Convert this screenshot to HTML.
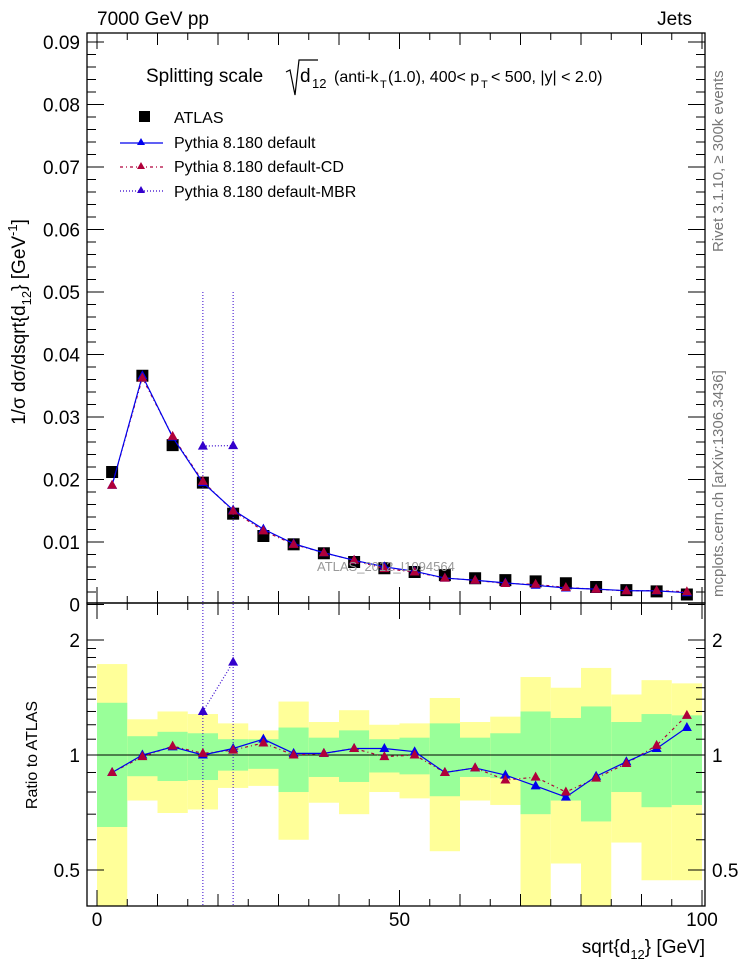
<!DOCTYPE html>
<html><head><meta charset="utf-8"><style>
html,body{margin:0;padding:0;background:#fff;}
svg{display:block;font-family:"Liberation Sans",sans-serif;}
</style></head><body>
<svg id="chart" width="746" height="972" viewBox="0 0 746 972" xmlns="http://www.w3.org/2000/svg">
<g id="bands"></g>
<g id="axes"></g>
<g id="marks"></g>
<text x="97" y="25" font-size="19">7000 GeV pp</text>
<text x="692" y="25" font-size="19" text-anchor="end">Jets</text>
<g>
<text x="146" y="82" font-size="19">Splitting scale</text>
<path d="M286,72 L290,70 L295,95 L299,60 L318,60" fill="none" stroke="#000" stroke-width="1.2"/>
<text x="300" y="82" font-size="19">d</text>
<text x="312" y="88" font-size="13">12</text>
<text x="334" y="82" font-size="16">(anti-k</text>
<text x="380" y="88" font-size="11">T</text>
<text x="388" y="82" font-size="16">(1.0), 400&lt; p</text>
<text x="481" y="88" font-size="11">T</text>
<text x="491" y="82" font-size="16">&lt; 500, |y| &lt; 2.0)</text>
</g>
<g>
<rect x="139" y="111" width="11" height="11" fill="#000"/>
<text x="174" y="123" font-size="16">ATLAS</text>
<line x1="120" y1="143" x2="163" y2="143" stroke="#0000ee" stroke-width="1.2"/>
<path d="M141,138 L145,145 L137,145Z" fill="#0000ee"/>
<text x="174" y="148" font-size="16">Pythia 8.180 default</text>
<line x1="120" y1="167" x2="163" y2="167" stroke="#b0003a" stroke-width="1.2" stroke-dasharray="3,3,1,3"/>
<path d="M141,162 L145,169 L137,169Z" fill="#b0003a"/>
<text x="174" y="172" font-size="16">Pythia 8.180 default-CD</text>
<line x1="120" y1="191" x2="163" y2="191" stroke="#3300cc" stroke-width="1.2" stroke-dasharray="1,2"/>
<path d="M141,186 L145,193 L137,193Z" fill="#3300cc"/>
<text x="174" y="197" font-size="16">Pythia 8.180 default-MBR</text>
</g>
<text x="317" y="571" font-size="13" fill="#999">ATLAS_2012_I1094564</text>
<text transform="translate(723,252) rotate(-90)" font-size="15" fill="#777">Rivet 3.1.10, ≥ 300k events</text>
<text transform="translate(723,597) rotate(-90)" font-size="15" fill="#777">mcplots.cern.ch [arXiv:1306.3436]</text>
<text transform="translate(25,322) rotate(-90)" font-size="19" text-anchor="middle">1/σ dσ/dsqrt{d<tspan font-size="13" dy="6">12</tspan><tspan dy="-6">} [GeV</tspan><tspan font-size="13" dy="-8">-1</tspan><tspan dy="8">]</tspan></text>
<text transform="translate(37,755) rotate(-90)" font-size="16" text-anchor="middle">Ratio to ATLAS</text>
<text x="705" y="953" font-size="19" text-anchor="end">sqrt{d<tspan font-size="13" dy="6">12</tspan><tspan dy="-6">} [GeV]</tspan></text>
</svg>
<script>
const binLo = [0,5,10,15,20,25,30,35,40,45,50,55,60,65,70,75,80,85,90,95];
const atlas = [0.0212,0.0366,0.0255,0.0195,0.01453,0.01096,0.00963,0.0082,0.0068,0.0058,0.0052,0.0047,0.0042,0.0039,0.0037,0.0034,0.0028,0.0023,0.0021,0.0016];
const ratioDefault = [0.90,1.0,1.05,1.0,1.04,1.10,1.01,1.01,1.04,1.04,1.02,0.90,0.925,0.886,0.83,0.776,0.88,0.96,1.04,1.18];
const ratioCD = [0.90,0.99,1.055,1.01,1.03,1.075,1.0,1.01,1.04,0.99,1.0,0.90,0.925,0.86,0.875,0.80,0.87,0.95,1.06,1.27];
const mbrX = [17.5,22.5];
const mbrRatio = [1.30,1.75];
const greenHi = [1.37,1.12,1.15,1.14,1.10,1.10,1.18,1.11,1.16,1.10,1.11,1.21,1.11,1.14,1.30,1.25,1.34,1.22,1.28,1.27];
const greenLo = [0.648,0.88,0.855,0.86,0.91,0.92,0.80,0.876,0.85,0.90,0.89,0.78,0.876,0.87,0.70,0.76,0.67,0.80,0.73,0.74];
const yellowHi = [1.73,1.24,1.30,1.28,1.21,1.16,1.38,1.22,1.31,1.20,1.21,1.41,1.22,1.26,1.60,1.50,1.69,1.44,1.57,1.54];
const yellowLo = [0.3,0.76,0.705,0.72,0.82,0.83,0.60,0.75,0.70,0.80,0.77,0.56,0.76,0.74,0.3,0.52,0.3,0.59,0.47,0.47];
const mainTicks = [0,0.01,0.02,0.03,0.04,0.05,0.06,0.07,0.08,0.09];
const mainTickLabels = ["0","0.01","0.02","0.03","0.04","0.05","0.06","0.07","0.08","0.09"];
const xTicks = [0,50,100];
const ratioTicks = [0.5,1,2];

const L=87,R=705,T=33,MB=603,RB=906;
const X=v=>97+v*6.05;
const Y=v=>604.5-v*6250;
const RY=r=>755-Math.log2(r)*115;
const NS="http://www.w3.org/2000/svg";
function mk(tag,parent,attrs){const e=document.createElementNS(NS,tag);for(const k in attrs)e.setAttribute(k,attrs[k]);document.getElementById(parent).appendChild(e);return e;}
const clampR=y=>Math.max(MB,Math.min(RB,y));

binLo.forEach((b,i)=>{
  let e=mk('rect','bands',{x:X(b),width:X(b+5)-X(b),y:clampR(RY(yellowHi[i])),height:clampR(RY(yellowLo[i]))-clampR(RY(yellowHi[i])),fill:'#ffff99'});
  
  
  e=mk('rect','bands',{x:X(b),width:X(b+5)-X(b),y:RY(greenHi[i]),height:RY(greenLo[i])-RY(greenHi[i]),fill:'#99ff99'});
  
  
});
let f=mk('rect','axes',{x:L,y:T,width:R-L,height:MB-T,fill:'none',stroke:'#000','stroke-width':1.3});


f=mk('rect','axes',{x:L,y:MB,width:R-L,height:RB-MB,fill:'none',stroke:'#000','stroke-width':1.3});


mk('line','axes',{x1:L,x2:R,y1:RY(1),y2:RY(1),stroke:'#000','stroke-width':1});
for(let v=0;v<=100;v+=5){
  const len=v%50==0?16:(v%10==0?12:7);
  [[T,1],[MB,-1],[MB,1],[RB,-1]].forEach(([y0,d])=>mk('line','axes',{x1:X(v),x2:X(v),y1:y0,y2:y0+d*len,stroke:'#000'}));
}
xTicks.forEach(v=>{const t=mk('text','axes',{x:X(v),y:926,'font-size':19,'text-anchor':'middle'});t.textContent=v;

});
for(let i=0;i<=46;i++){const v=i*0.002;const y=Y(v);if(y<T)break;const len=i%5==0?17:9;
  mk('line','axes',{x1:L,x2:L+len,y1:y,y2:y,stroke:'#000'});mk('line','axes',{x1:R,x2:R-len,y1:y,y2:y,stroke:'#000'});}
mainTicks.forEach((v,i)=>{const t=mk('text','axes',{x:80,y:Y(v)+7,'font-size':19,'text-anchor':'end'});t.textContent=mainTickLabels[i];

});
[0.4,0.5,0.6,0.7,0.8,0.9,1,1.1,1.2,1.3,1.4,1.5,1.6,1.7,1.8,1.9,2].forEach(v=>{const y=RY(v);if(y>RB||y<MB)return;const len=ratioTicks.includes(v)?17:9;
  mk('line','axes',{x1:L,x2:L+len,y1:y,y2:y,stroke:'#000'});mk('line','axes',{x1:R,x2:R-len,y1:y,y2:y,stroke:'#000'});});
ratioTicks.forEach(v=>{[80,712].forEach(x=>{const t=mk('text','axes',{x:x,y:RY(v)+7,'font-size':19,'text-anchor':x<100?'end':'start'});t.textContent=v;

});});

const cx=binLo.map(b=>X(b+2.5));
function tri(x,y,c,name){const e=mk('path','marks',{d:`M${x},${y-5.5} L${x+5},${y+3.5} L${x-5},${y+3.5}Z`,fill:c});

}
const defMain=atlas.map((a,i)=>a*ratioDefault[i]);
const cdMain=atlas.map((a,i)=>a*ratioCD[i]);
atlas.forEach((a,i)=>{const e=mk('rect','marks',{x:cx[i]-6,y:Y(a)-6,width:12,height:12,fill:'#000'});

});
function line(xs,ys,c,dash,name){const e=mk('polyline','marks',{points:xs.map((x,i)=>x+','+ys[i]).join(' '),fill:'none',stroke:c,'stroke-width':1.2,'stroke-dasharray':dash});

}
line(cx,cdMain.map(Y),'#b0003a','3,3,1,3','cd-line');
line(cx,defMain.map(Y),'#0000ee','none','default-line');
line(cx,ratioCD.map(RY),'#b0003a','3,3,1,3','cd-ratio-line');
line(cx,ratioDefault.map(RY),'#0000ee','none','default-ratio-line');
const mbrMainVal=mbrX.map((x,i)=>atlas[(x-2.5)/5]*mbrRatio[i]);
mbrX.forEach(x=>{const e=mk('line','marks',{x1:X(x),x2:X(x),y1:Y(0.05),y2:RB,stroke:'#3300cc','stroke-dasharray':'1,2'});

});
line(mbrX.map(X),mbrMainVal.map(Y),'#3300cc','1,2','mbr-line');
line(mbrX.map(X),mbrRatio.map(RY),'#3300cc','1,2','mbr-ratio-line');
cx.forEach((x,i)=>{tri(x,Y(defMain[i]),'#0000ee','default-point');tri(x,Y(cdMain[i]),'#b0003a','cd-point');
tri(x,RY(ratioDefault[i]),'#0000ee','default-ratio-point');tri(x,RY(ratioCD[i]),'#b0003a','cd-ratio-point');});
mbrX.forEach((x,i)=>{tri(X(x),Y(mbrMainVal[i]),'#3300cc','mbr-point');tri(X(x),RY(mbrRatio[i]),'#3300cc','mbr-ratio-point');});
</script>
</body></html>
